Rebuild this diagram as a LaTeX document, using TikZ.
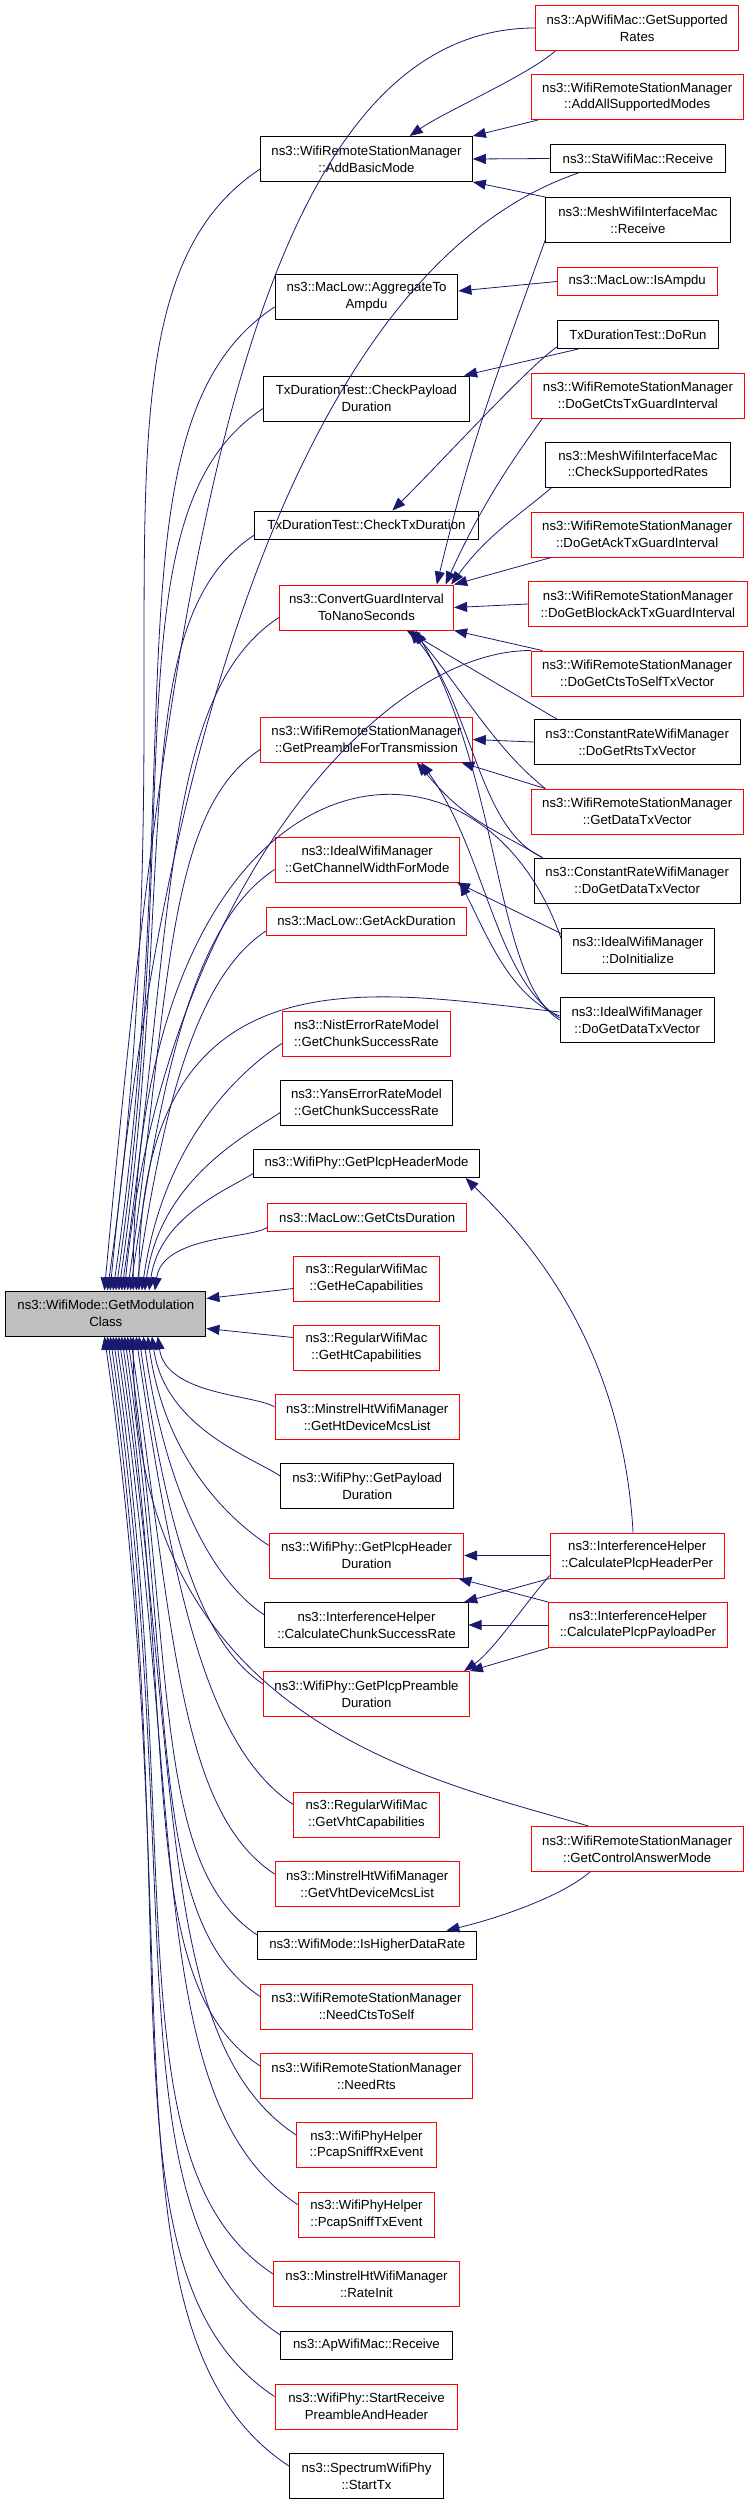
\documentclass[tikz,border=0pt]{standalone}
\usepackage{fontspec}
\setmainfont{Liberation Sans}
\usetikzlibrary{arrows.meta}
\definecolor{edgeblue}{HTML}{191970}
\definecolor{boxred}{HTML}{FF0000}
\begin{document}
\begin{tikzpicture}[x=1.44pt,y=-1pt, wd/.style={minimum width=#1*1.44pt}]
    \tikzstyle{fn}=[rectangle, draw=black, line width=1pt, align=center,
                    inner sep=0pt, minimum height=45pt,
                    font=\fontsize{13.2}{16.7}\selectfont]
    \tikzstyle{fnred}=[fn, draw=boxred]
    \tikzstyle{oneline}=[minimum height=28pt]
    \tikzstyle{call}=[draw=edgeblue, line width=0.8pt,
                      arrows={Triangle[length=13pt,width=10pt]-}]
    \useasboundingbox (0,0) rectangle (522.2,2504);

    \node[fn, fill=gray!50, wd=139] (main) at (73.5,1313.5) {ns3::WifiMode::GetModulation\\Class};

    \node[fnred, wd=141] (apsup) at (442.5,28) {ns3::ApWifiMac::GetSupported\\Rates};
    \node[fnred, wd=147] (addall) at (442.5,97) {ns3::WifiRemoteStationManager\\::AddAllSupportedModes};
    \node[fn, oneline, wd=122] (starecv) at (443,158.5) {ns3::StaWifiMac::Receive};
    \node[fn, wd=128] (meshrecv) at (443,220) {ns3::MeshWifiInterfaceMac\\::Receive};
    \node[fnred, oneline, wd=111] (isampdu) at (442.5,281.5) {ns3::MacLow::IsAmpdu};
    \node[fn, oneline, wd=112] (dorun) at (443,334.5) {TxDurationTest::DoRun};
    \node[fnred, wd=148] (ctsgi) at (443,395.5) {ns3::WifiRemoteStationManager\\::DoGetCtsTxGuardInterval};
    \node[fn, wd=128] (meshcheck) at (443,465) {ns3::MeshWifiInterfaceMac\\::CheckSupportedRates};
    \node[fnred, wd=147] (ackgi) at (442.5,534.5) {ns3::WifiRemoteStationManager\\::DoGetAckTxGuardInterval};
    \node[fnred, wd=152] (bagi) at (443,604) {ns3::WifiRemoteStationManager\\::DoGetBlockAckTxGuardInterval};
    \node[fnred, wd=147] (ctsself) at (442.5,673.5) {ns3::WifiRemoteStationManager\\::DoGetCtsToSelfTxVector};
    \node[fn, wd=143] (crrts) at (442.5,742) {ns3::ConstantRateWifiManager\\::DoGetRtsTxVector};
    \node[fnred, wd=147] (datatx) at (442.5,811.5) {ns3::WifiRemoteStationManager\\::GetDataTxVector};
    \node[fn, wd=143] (crdata) at (442.5,880.5) {ns3::ConstantRateWifiManager\\::DoGetDataTxVector};
    \node[fn, wd=106] (idinit) at (443,950.5) {ns3::IdealWifiManager\\::DoInitialize};
    \node[fn, wd=107] (iddata) at (442.5,1020) {ns3::IdealWifiManager\\::DoGetDataTxVector};
    \node[fnred, wd=121] (hdrper) at (442.5,1555.5) {ns3::InterferenceHelper\\::CalculatePlcpHeaderPer};
    \node[fnred, wd=124] (payper) at (443,1625) {ns3::InterferenceHelper\\::CalculatePlcpPayloadPer};
    \node[fnred, wd=147] (ctrlans) at (442.5,1849) {ns3::WifiRemoteStationManager\\::GetControlAnswerMode};

    \node[fn, wd=147] (addbasic) at (254.5,159) {ns3::WifiRemoteStationManager\\::AddBasicMode};
    \node[fn, wd=127] (aggr) at (254.5,297) {ns3::MacLow::AggregateTo\\Ampdu};
    \node[fn, wd=143] (chkpay) at (254.5,398.5) {TxDurationTest::CheckPayload\\Duration};
    \node[fn, oneline, wd=155] (chktx) at (254.5,525) {TxDurationTest::CheckTxDuration};
    \node[fnred, wd=121] (convgi) at (254.5,607.5) {ns3::ConvertGuardInterval\\ToNanoSeconds};
    \node[fnred, wd=147] (preamble) at (254.5,739.5) {ns3::WifiRemoteStationManager\\::GetPreambleForTransmission};
    \node[fnred, wd=128] (chwidth) at (255,859.5) {ns3::IdealWifiManager\\::GetChannelWidthForMode};
    \node[fnred, oneline, wd=139] (ackdur) at (254.5,921) {ns3::MacLow::GetAckDuration};
    \node[fnred, wd=117] (nist) at (254.5,1033.5) {ns3::NistErrorRateModel\\::GetChunkSuccessRate};
    \node[fn, wd=119] (yans) at (254.5,1102.5) {ns3::YansErrorRateModel\\::GetChunkSuccessRate};
    \node[fn, oneline, wd=157] (hdrmode) at (254.5,1163.5) {ns3::WifiPhy::GetPlcpHeaderMode};
    \node[fnred, oneline, wd=138] (ctsdur) at (255,1217.5) {ns3::MacLow::GetCtsDuration};
    \node[fnred, wd=101] (hecap) at (254.5,1278.5) {ns3::RegularWifiMac\\::GetHeCapabilities};
    \node[fnred, wd=101] (htcap) at (254.5,1347.5) {ns3::RegularWifiMac\\::GetHtCapabilities};
    \node[fnred, wd=128] (htmcs) at (255,1417) {ns3::MinstrelHtWifiManager\\::GetHtDeviceMcsList};
    \node[fn, wd=120] (paydur) at (255,1486) {ns3::WifiPhy::GetPayload\\Duration};
    \node[fnred, wd=135] (hdrdur) at (254.5,1555.5) {ns3::WifiPhy::GetPlcpHeader\\Duration};
    \node[fn, wd=141] (chunk) at (254.5,1625) {ns3::InterferenceHelper\\::CalculateChunkSuccessRate};
    \node[fnred, wd=143] (predur) at (254.5,1694) {ns3::WifiPhy::GetPlcpPreamble\\Duration};
    \node[fnred, wd=101] (vhtcap) at (254.5,1814.5) {ns3::RegularWifiMac\\::GetVhtCapabilities};
    \node[fnred, wd=128] (vhtmcs) at (255,1884) {ns3::MinstrelHtWifiManager\\::GetVhtDeviceMcsList};
    \node[fn, oneline, wd=152] (higher) at (255,1945) {ns3::WifiMode::IsHigherDataRate};
    \node[fnred, wd=147] (needcts) at (254.5,2006.5) {ns3::WifiRemoteStationManager\\::NeedCtsToSelf};
    \node[fnred, wd=147] (needrts) at (254.5,2076) {ns3::WifiRemoteStationManager\\::NeedRts};
    \node[fnred, wd=97] (sniffrx) at (254.5,2145) {ns3::WifiPhyHelper\\::PcapSniffRxEvent};
    \node[fnred, wd=95] (snifftx) at (254.5,2214.5) {ns3::WifiPhyHelper\\::PcapSniffTxEvent};
    \node[fnred, wd=129] (rateinit) at (254.5,2284) {ns3::MinstrelHtWifiManager\\::RateInit};
    \node[fn, oneline, wd=119] (aprecv) at (254.5,2345) {ns3::ApWifiMac::Receive};
    \node[fnred, wd=127] (startrx) at (254.5,2406.5) {ns3::WifiPhy::StartReceive\\PreambleAndHeader};
    \node[fn, wd=107] (starttx) at (254.5,2476) {ns3::SpectrumWifiPhy\\::StartTx};

    \foreach \n/\dx/\a/\b in {addbasic/1/620/225, aggr/5/545/198, chkpay/7/488/178,
                              chktx/9/419/152, convgi/11/375/136, preamble/15/302/110,
                              chwidth/17/238/87, ackdur/21/204/74, nist/25/146/53,
                              yans/27/111/40, hdrmode/30/75/27, ctsdur/34/55/20}
        \draw[call] ([xshift=\dx*1.44pt]main.north) .. controls +({0.1*\a},{-\a}) and +({-0.6*\b},{0.57*\b}) .. ([yshift=-10pt]\n.west);
    \foreach \n/\dx/\a/\b in {htmcs/36/59/22, paydur/32/91/33, hdrdur/29/124/45,
                              chunk/26/160/58, predur/23/197/72, vhtcap/21/265/96,
                              vhtmcs/17/301/109, higher/15/333/121, needcts/13/367/133,
                              needrts/11/405/147, sniffrx/9/445/162, snifftx/7/483/176,
                              rateinit/5/520/189, aprecv/3/553/201, startrx/1/587/213,
                              starttx/-1/625/227}
        \draw[call] ([xshift=\dx*1.44pt]main.south) .. controls +({0.1*\a},{\a}) and +({-0.6*\b},{-0.57*\b}) .. ([yshift=10pt]\n.west);

    \draw[call] ([xshift=-1.4pt]main.north) .. controls +(45,-705) and +(-200,0) .. (apsup.west);
    \draw[call] ([xshift=4.3pt]main.north) .. controls +(35,-545) and +(-190,93) .. ([xshift=28.8pt]starecv.south west);
    \draw[call] ([xshift=18.7pt]main.north) .. controls +(25,-382) and +(-110,0) .. (ctsself.north west);
    \draw[call] ([xshift=27.4pt]main.north) .. controls +(0,-550) and +(-60,-250) .. ([yshift=12pt]idinit.west);
    \draw[call] ([xshift=33.1pt]main.north) .. controls +(0,-350) and +(-130,-20) .. ([yshift=8pt]iddata.west);
    \draw[call] ([yshift=15pt]main.east) -- ([yshift=-10pt]hecap.west);
    \draw[call] ([yshift=-15pt]main.east) -- ([yshift=10pt]htcap.west);
    \draw[call] ([xshift=27.4pt]main.south) .. controls +(0,380) and +(-120,-50) .. ([xshift=57.6pt]ctrlans.north west);

    \draw[call] ([xshift=43.2pt]addbasic.north) .. controls +(25,-25) and +(-20,25) .. ([xshift=20.2pt]apsup.south west);
    \draw[call] (addbasic.north east) -- ([xshift=7.2pt]addall.south west);
    \draw[call] (addbasic.east) -- (starecv.west);
    \draw[call] (addbasic.south east) -- (meshrecv.north west);
    \draw[call] ([yshift=6pt]aggr.east) -- (isampdu.west);
    \draw[call] ([xshift=-5.8pt]chkpay.north east) -- ([xshift=21.6pt]dorun.south west);
    \draw[call] ([xshift=25.9pt]chktx.north) .. controls +(35,-50) and +(-20,20) .. ([yshift=2pt]dorun.south west);

    \draw[call] ([xshift=-17.3pt]convgi.north east) .. controls +(25,-150) and +(-30,120) .. ([yshift=3pt]meshrecv.south west);
    \draw[call] ([xshift=-8.6pt]convgi.north east) .. controls +(25,-80) and +(-20,40) .. ([xshift=11.5pt]ctsgi.south west);
    \draw[call] ([xshift=-2.9pt]convgi.north east) .. controls +(25,-50) and +(-20,25) .. ([xshift=5.8pt]meshcheck.south west);
    \draw[call] (convgi.north east) -- ([xshift=20.2pt]ackgi.south west);
    \draw[call] (convgi.east) -- (bagi.west);
    \draw[call] (convgi.south east) -- ([xshift=11.5pt]ctsself.north west);
    \draw[call] ([xshift=40.3pt]convgi.south) -- ([xshift=23pt]crrts.north west);
    \draw[call] ([xshift=46pt]convgi.south) .. controls +(35,60) and +(-35,-40) .. ([xshift=14.4pt]datatx.north west);
    \draw[call] ([xshift=43.2pt]convgi.south) .. controls +(45,80) and +(-45,-30) .. ([xshift=8.6pt]crdata.north west);
    \draw[call] ([xshift=49pt]convgi.south) .. controls +(60,150) and +(-45,-40) .. (iddata.west);

    \draw[call] (preamble.east) -- (crrts.west);
    \draw[call] ([xshift=-11.5pt]preamble.south east) -- ([xshift=14.4pt]datatx.north west);
    \draw[call] ([xshift=50.4pt]preamble.south) .. controls +(35,60) and +(-35,-30) .. ([xshift=8.6pt]crdata.north west);
    \draw[call] ([xshift=54.7pt]preamble.south) .. controls +(45,90) and +(-45,-40) .. ([yshift=2pt]iddata.west);
    \draw[call] ([xshift=-2.9pt]chwidth.south east) -- ([yshift=-6pt]idinit.north west);
    \draw[call] (chwidth.south east) .. controls +(18,50) and +(-35,-20) .. ([yshift=4pt]iddata.west);

    \draw[call] ([xshift=-14.4pt]hdrmode.south east) .. controls +(35,50) and +(-8,-200) .. ([xshift=83.5pt]hdrper.north west);
    \draw[call] (hdrdur.east) -- (hdrper.west);
    \draw[call] ([xshift=-4.3pt]chunk.north east) -- (hdrper.south west);
    \draw[call] ([xshift=-5.8pt]predur.north east) .. controls +(20,-20) and +(-18,30) .. ([yshift=3pt]hdrper.south west);
    \draw[call] ([xshift=-5.8pt]hdrdur.south east) -- (payper.north west);
    \draw[call] (chunk.east) -- (payper.west);
    \draw[call] (predur.north east) -- (payper.south west);
    \draw[call] ([xshift=79.2pt]higher.north) .. controls +(35,-12) and +(-20,25) .. ([xshift=59pt]ctrlans.south west);
\end{tikzpicture}
\end{document}
